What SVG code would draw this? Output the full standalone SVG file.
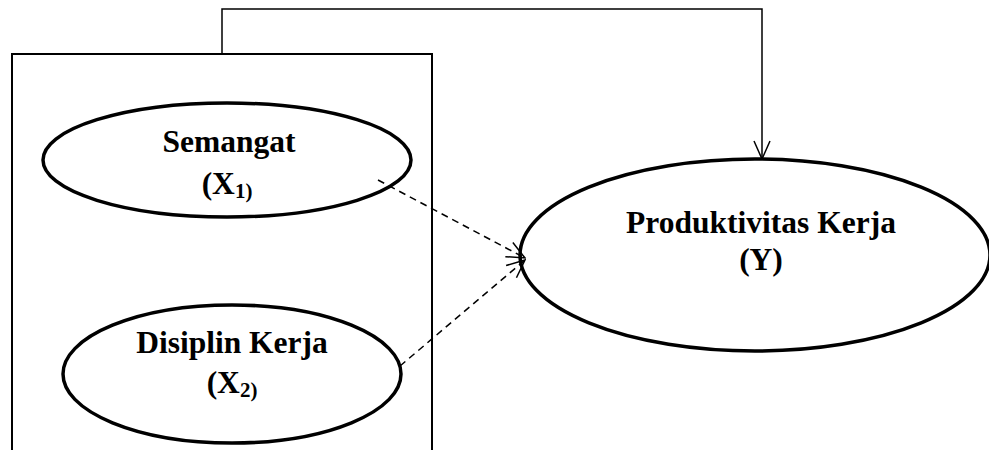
<svg xmlns="http://www.w3.org/2000/svg" width="989" height="450" viewBox="0 0 989 450">
<style>
.n{fill:#fff;stroke:#000;stroke-width:3.5}
.t{font-family:'Liberation Serif','Times New Roman',Times,serif;font-weight:bold;font-size:31.5px;text-anchor:middle;fill:#000}
.c{fill:none;stroke:#000;stroke-width:1.5}
.d{stroke-dasharray:7,5}
</style>
<defs>
<marker id="a" viewBox="0 0 20 20" refX="19" refY="10" markerWidth="20" markerHeight="20" markerUnits="userSpaceOnUse" orient="auto">
<path d="M1,2 L19,10 L1,18" fill="none" stroke="#000" stroke-width="1.5"/>
</marker>
</defs>
<rect id="box" x="12" y="54" width="420" height="420" fill="none" stroke="#000" stroke-width="2"/>
<g id="x1"><ellipse class="n" cx="227" cy="160" rx="184" ry="57"/><text class="t" x="229" y="152">Semangat</text><text class="t" x="227" y="194">(X<tspan font-size="21" dy="4">1)</tspan></text></g>
<g id="x2"><ellipse class="n" cx="232" cy="374" rx="169" ry="69"/><text class="t" x="232" y="353">Disiplin Kerja</text><text class="t" x="232" y="393">(X<tspan font-size="21" dy="4">2)</tspan></text></g>
<g id="y"><ellipse class="n" cx="755" cy="255" rx="235" ry="96"/><text class="t" x="761" y="233">Produktivitas Kerja</text><text class="t" x="761" y="270">(Y)</text></g>
<g id="connectors">
<line class="c d" x1="378" y1="180" x2="525" y2="258" marker-end="url(#a)"/>
<line class="c d" x1="400" y1="366" x2="525" y2="260" marker-end="url(#a)"/>
<polyline class="c" points="222,54 222,9 762,9 762,159" marker-end="url(#a)"/>
</g>
</svg>
